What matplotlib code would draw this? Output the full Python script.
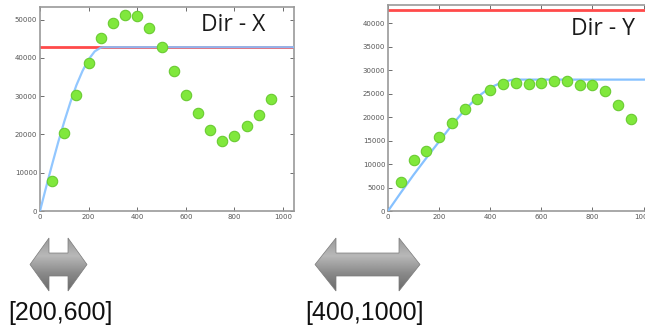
import numpy as np
import matplotlib
matplotlib.use("Agg")
import matplotlib.pyplot as plt
from matplotlib.patches import Polygon

# ── Data ──────────────────────────────────────────────────────────────────────

lags = [50, 100, 150, 200, 250, 300, 350, 400, 450, 500,
        550, 600, 650, 700, 750, 800, 850, 900, 950]

semivar_x = [7900, 20300, 30300, 38600, 45200, 49100, 51100, 50900, 47900, 42800,
             36600, 30400, 25600, 21200, 18400, 19700, 22200, 25100, 29300]
semivar_y = [6200, 10800, 12800, 15700, 18800, 21700, 23900, 25800, 27000, 27200,
             27100, 27300, 27600, 27800, 26900, 26800, 25600, 22500, 19700]

# fitted model curves
model_x_h = [0, 25, 50, 75, 100, 125, 150, 175, 200, 225, 250, 265, 1100]
model_x_v = [0, 6200, 12200, 18000, 23400, 28400, 32900, 36600, 39600, 41700, 42700, 42800, 42800]
model_y_h = [0, 50, 100, 150, 200, 250, 300, 350, 400, 450, 490, 1100]
model_y_v = [0, 3900, 7700, 11300, 14800, 18300, 21500, 24300, 26300, 27500, 28000, 28000]

variance = 42800

titles = ["Dir - X", "Dir - Y"]
ranges = ["[200,600]", "[400,1000]"]

# ── Style ─────────────────────────────────────────────────────────────────────

GREEN = "#80e83c"
GREEN_EDGE = "#6acb32"
BLUE = "#86c1ff"
RED = "#ff4a4a"
SPINE = "#999999"
TICK = "#555555"

W, H = 645, 331
fig = plt.figure(figsize=(W / 100, H / 100), dpi=100)
fig.patch.set_facecolor("white")


def px_axes(x0, y0, x1, y1):
    # pixel box (top-left origin) -> figure fraction axes
    return fig.add_axes([x0 / W, 1 - y1 / H, (x1 - x0) / W, (y1 - y0) / H])


def style(ax, ymax, ystep):
    ax.set_xlim(0, 1045)
    ax.set_ylim(0, ymax)
    ax.set_xticks(np.arange(0, 1001, 200))
    ax.set_yticks(np.arange(0, ymax, ystep))
    ax.tick_params(direction="in", top=True, right=True, length=3, width=0.6,
                   labelsize=5, colors=TICK, pad=2)
    for s in ax.spines.values():
        s.set_color(SPINE)
        s.set_linewidth(1.2)


ax1 = px_axes(40, 7, 294, 211)
ax1.axhline(variance, color=RED, lw=2.0, zorder=2)
ax1.plot(model_x_h, model_x_v, color=BLUE, lw=1.6, alpha=0.9, zorder=3)
ax1.plot(lags, semivar_x, "o", ms=7.5, mfc=GREEN, mec=GREEN_EDGE, mew=0.8, zorder=4)
style(ax1, 53300, 10000)
ax1.text(0.76, 0.91, titles[0], transform=ax1.transAxes, ha="center", va="center",
         fontsize=16.5, family="Open Sans", color="#1a1a1a")

ax2 = px_axes(388, 5, 655, 211)
ax2.axhline(variance, color=RED, lw=2.0, zorder=2)
ax2.plot(model_y_h, model_y_v, color=BLUE, lw=1.6, zorder=3)
ax2.plot(lags, semivar_y, "o", ms=7.5, mfc=GREEN, mec=GREEN_EDGE, mew=0.8, zorder=4)
style(ax2, 43900, 5000)
ax2.text(0.805, 0.885, titles[1], transform=ax2.transAxes, ha="center", va="center",
         fontsize=16.5, family="Open Sans", color="#1a1a1a")

# ── Double arrows with gradient ───────────────────────────────────────────────

bg = fig.add_axes([0, 0, 1, 1], zorder=-1)
bg.set_xlim(0, W)
bg.set_ylim(H, 0)
bg.axis("off")

grad = np.linspace(0, 1, 100)[:, None]
cmap = matplotlib.colors.LinearSegmentedColormap.from_list(
    "arr", ["#9a9a9a", "#b8b8b8", "#8a8a8a", "#6a6a6a"])


def double_arrow(x0, x1, head):
    top, bot = 238, 291
    s_top, s_bot = 253, 276
    mid = (top + bot) / 2
    pts = [(x0, mid), (x0 + head, top), (x0 + head, s_top), (x1 - head, s_top),
           (x1 - head, top), (x1, mid), (x1 - head, bot), (x1 - head, s_bot),
           (x0 + head, s_bot), (x0 + head, bot)]
    poly = Polygon(pts, closed=True, fc="none", ec="#7a7a7a", lw=0.5)
    bg.add_patch(poly)
    im = bg.imshow(grad, cmap=cmap, extent=(x0, x1, bot, top), aspect="auto",
                   interpolation="bilinear")
    im.set_clip_path(poly)


double_arrow(30, 87, 19)
double_arrow(315, 420, 21)
bg.set_xlim(0, W)
bg.set_ylim(H, 0)

fig.text(60 / W, 1 - 313 / H, ranges[0], ha="center", va="center",
         fontsize=18, family="Liberation Sans", color="#111111")
fig.text(364 / W, 1 - 313 / H, ranges[1], ha="center", va="center",
         fontsize=18, family="Liberation Sans", color="#111111")

fig.savefig("out.png", dpi=100, facecolor="white")
